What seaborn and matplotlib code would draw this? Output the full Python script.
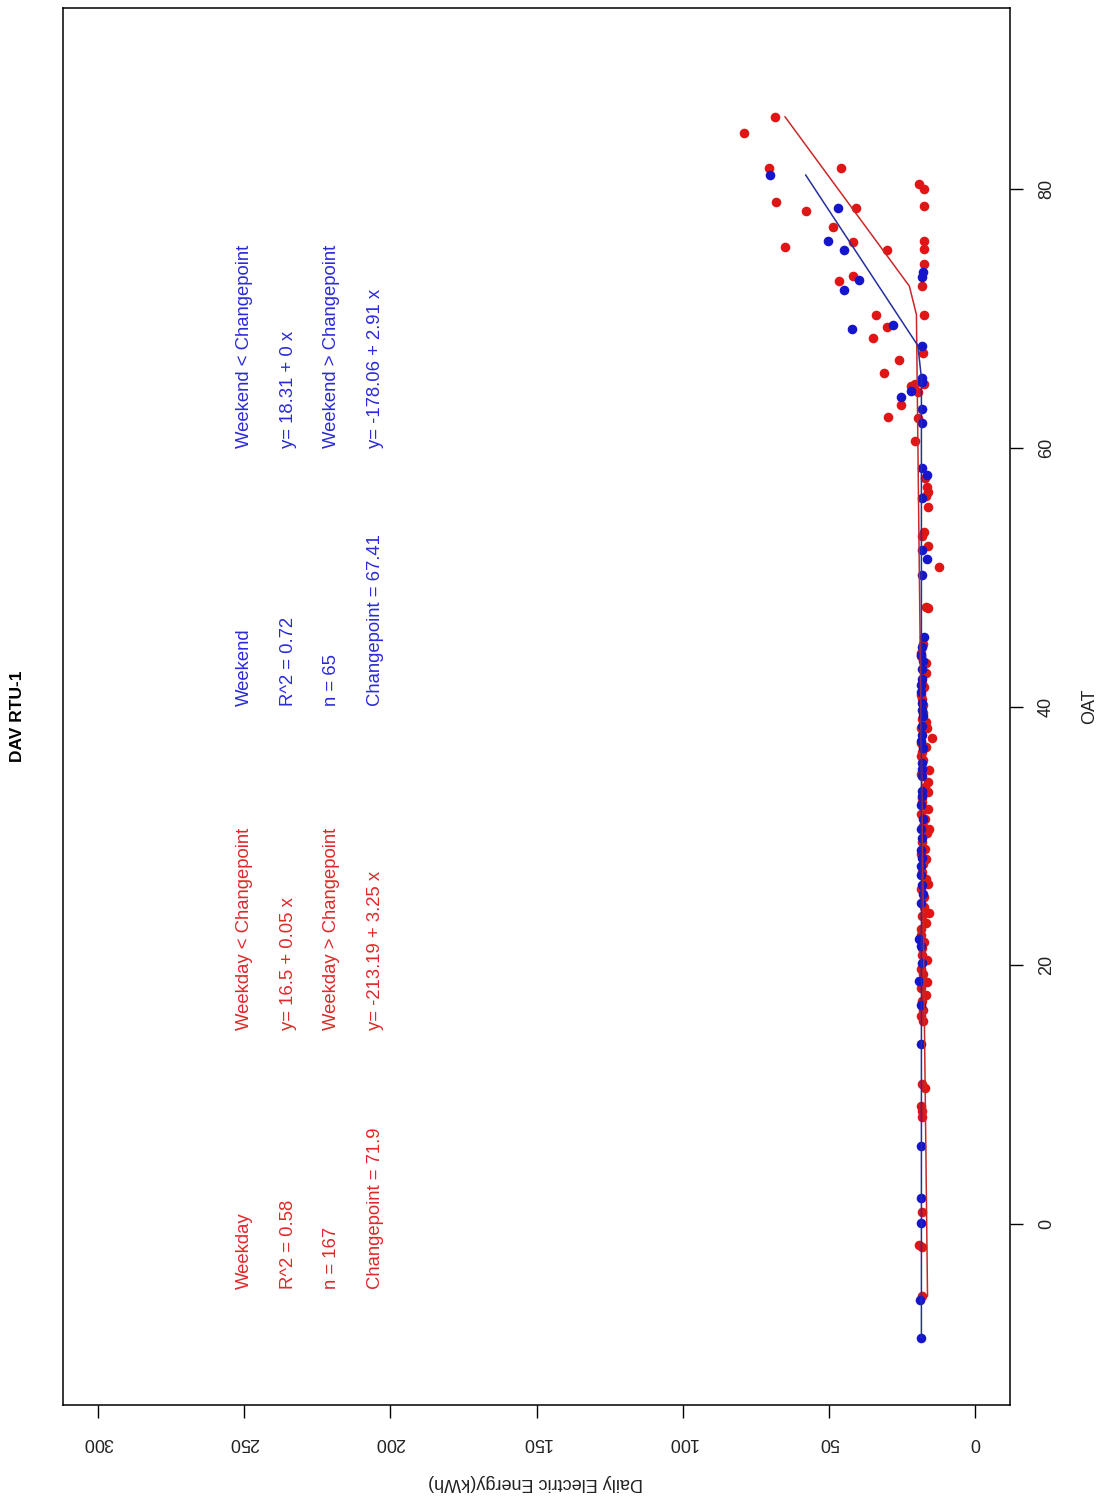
import matplotlib
matplotlib.use("Agg")
import matplotlib.pyplot as plt
import seaborn as sns
import pandas as pd
import numpy as np

# ---------------- data ----------------
weekday_oat = [85.6, 84.3, 81.6, 81.6, 79.0, 78.3, 78.5, 77.1, 75.9, 75.5, 75.3, 73.3, 72.9,
               80.4, 80.0, 78.7, 76.0, 75.4, 74.2, 72.5, 70.3, 70.3, 69.3, 68.5, 67.3, 66.8,
               65.8, 64.8, 64.9, 64.9, 64.3, 63.3, 62.4, 62.3, 60.5, 57.7, 57.0, 56.6, 56.3,
               55.4, 53.5, 53.2, 52.4, 50.8, 47.7, 47.6, 44.1, 43.4, 40.6, 40.1, 39.0, 38.8,
               38.3, 38.3, 37.6, 36.5, 36.2, 34.2, 32.9, 32.1, 31.7, 31.3, 29.0, 28.6, 28.2,
               27.2, 24.5, 22.8, 21.3, 19.7, 18.2, 17.7, 16.1, 15.7, 10.8, 10.5, 9.1, 8.7,
               8.3, 0.9, -1.6, -1.8, -5.6,
               # densely packed points in the main cluster
               44.8, 43.9, 42.6, 41.8, 41.5, 40.9, 39.5, 37.2, 36.9, 35.9, 34.8, 33.8, 32.6,
               30.8, 30.2, 29.5, 27.8, 26.7, 25.9, 25.3, 23.8, 23.3, 22.3, 21.8, 20.8, 19.3,
               18.7, 17.2, 16.5, 35.1, 33.4, 30.5, 26.3, 24.0, 20.4]
weekday_kwh = [68.3, 78.9, 70.6, 45.9, 67.9, 57.8, 40.6, 48.7, 41.6, 65.1, 30.2, 41.7, 46.4,
               19.1, 17.4, 17.4, 17.4, 17.4, 17.4, 18.0, 33.7, 17.4, 30.2, 34.8, 17.8, 26.0,
               31.1, 22.0, 20.6, 17.3, 19.5, 25.2, 29.6, 19.5, 20.6, 17.1, 16.3, 15.9, 16.8,
               15.9, 17.4, 18.2, 15.9, 12.3, 16.8, 15.9, 18.5, 16.8, 18.2, 17.8, 18.0, 16.8,
               18.5, 16.3, 14.6, 18.2, 18.5, 15.9, 18.2, 15.9, 18.5, 17.1, 17.1, 18.5, 16.8,
               18.0, 17.4, 18.5, 18.0, 18.5, 18.5, 16.8, 18.5, 17.8, 18.0, 17.2, 18.5, 18.2,
               18.0, 18.0, 19.1, 18.2, 18.0,
               17.9, 18.4, 16.6, 18.0, 17.3, 18.6, 17.7, 18.3, 16.9, 17.8, 18.5, 17.2, 18.1,
               17.6, 16.4, 18.2, 17.8, 16.9, 18.4, 17.5, 18.0, 16.7, 18.3, 17.4, 18.1, 17.7,
               16.5, 18.2, 17.9, 15.6, 16.2, 15.8, 16.1, 15.7, 16.3]

weekend_oat = [81.1, 78.5, 76.0, 75.3, 73.0, 72.2, 73.6, 73.2, 69.2, 69.5, 67.9, 65.4, 65.1,
               64.4, 63.9, 63.0, 61.9, 58.4, 57.9, 56.1, 52.1, 51.4, 50.2, 45.4, 44.6, 42.9,
               42.1, 41.1, 39.7, 38.5, 37.8, 35.6, 35.2, 33.5, 33.1, 30.5, 29.8, 27.7, 26.2,
               24.8, 22.0, 21.5, 20.2, 18.8, 16.9, 13.9, 6.0, 2.0, 0.1, -5.9, -8.8,
               44.0, 43.5, 41.7, 40.3, 39.3, 37.3, 36.8, 34.6, 32.4, 31.3, 28.9, 28.3, 27.0,
               25.5]
weekend_kwh = [70.0, 46.9, 50.1, 44.7, 39.5, 44.7, 17.7, 18.2, 42.1, 27.9, 18.0, 18.0, 18.0,
               21.8, 25.2, 18.0, 18.0, 18.0, 16.5, 18.2, 18.2, 16.3, 18.0, 17.4, 18.0, 18.0,
               18.2, 18.5, 18.0, 18.2, 18.2, 18.2, 18.0, 18.0, 18.2, 18.5, 18.0, 18.5, 18.2,
               18.5, 19.1, 18.5, 18.2, 19.1, 18.5, 18.5, 18.5, 18.5, 18.5, 18.9, 18.5,
               18.3, 17.6, 18.4, 18.1, 17.8, 18.5, 17.9, 18.2, 18.6, 17.7, 18.3, 18.0, 18.4,
               17.9]

# changepoint model coefficients (as printed on the chart)
weekday_fit = {"cp": 71.9, "lo": (16.5, 0.05), "hi": (-213.19, 3.25)}
weekend_fit = {"cp": 67.41, "lo": (18.31, 0.0), "hi": (-178.06, 2.91)}

energy_ticks = [0, 50, 100, 150, 200, 250, 300]
oat_ticks = [0, 20, 40, 60, 80]

weekday_lines = ["Weekday", "R^2 = 0.58", "n = 167", "Changepoint = 71.9"]
weekday_eq = ["Weekday < Changepoint", "y= 16.5 + 0.05 x",
              "Weekday > Changepoint", "y= -213.19 + 3.25 x"]
weekend_lines = ["Weekend", "R^2 = 0.72", "n = 65", "Changepoint = 67.41"]
weekend_eq = ["Weekend < Changepoint", "y= 18.31 + 0 x",
              "Weekend > Changepoint", "y= -178.06 + 2.91 x"]

# ---------------- styling ----------------
sns.set_theme(style="white")
plt.rcParams["font.family"] = ["Liberation Sans", "DejaVu Sans"]

RED_PT = "#E01515"
BLUE_PT = "#1515CC"
RED_LN = "#C82828"
BLUE_LN = "#25309A"
RED_TX = "#E02828"
BLUE_TX = "#2A2ADA"

W, H = 1104, 1497
fig = plt.figure(figsize=(W / 100, H / 100), dpi=100)
fig.patch.set_facecolor("white")
ax = fig.add_axes([63 / W, 1 - 1405 / H, (1010 - 63) / W, (1405 - 8) / H])
ax.set_facecolor("white")


def fitted(oats, fit):
    o = np.sort(np.asarray(oats))
    b0l, b1l = fit["lo"]
    b0h, b1h = fit["hi"]
    return o, np.where(o < fit["cp"], b0l + b1l * o, b0h + b1h * o)


wd = pd.DataFrame({"OAT": weekday_oat, "kWh": weekday_kwh})
we = pd.DataFrame({"OAT": weekend_oat, "kWh": weekend_kwh})

sns.scatterplot(data=wd, x="kWh", y="OAT", color=RED_PT, s=48, linewidth=0, ax=ax, zorder=3)
sns.scatterplot(data=we, x="kWh", y="OAT", color=BLUE_PT, s=48, linewidth=0, ax=ax, zorder=4)

o, f = fitted(weekday_oat, weekday_fit)
sns.lineplot(x=f, y=o, sort=False, estimator=None, color=RED_LN, lw=1.1, ax=ax, zorder=5)
o, f = fitted(weekend_oat, weekend_fit)
sns.lineplot(x=f, y=o, sort=False, estimator=None, color=BLUE_LN, lw=1.1, ax=ax, zorder=5)

ax.set_xlim(312, -12)
ax.set_ylim(-14, 94)

# energy axis (bottom, labels upside down)
ax.set_xticks(energy_ticks)
ax.set_xticklabels([str(t) for t in energy_ticks])
ax.tick_params(axis="x", bottom=True, length=9, width=1, color="black", direction="out",
               labelrotation=180, labelsize=13, pad=12, labelcolor="#222222")
# OAT axis (right)
ax.yaxis.tick_right()
ax.set_yticks(oat_ticks)
ax.set_yticklabels([str(t) for t in oat_ticks], va="center")
ax.tick_params(axis="y", right=True, left=False, length=9, width=1, color="black",
               direction="out", labelrotation=90, labelsize=13, pad=11, labelcolor="#222222")
ax.set_xlabel("")
ax.set_ylabel("")
for sp in ax.spines.values():
    sp.set_visible(True)
    sp.set_color("black")
    sp.set_linewidth(1.1)
ax.grid(False)

# annotations
fs = 13.3
cols_e = [250, 235, 220, 205]
for e, t in zip(cols_e, weekday_lines):
    ax.text(e, -5, t, rotation=90, rotation_mode="anchor", ha="left", va="center",
            color=RED_TX, fontsize=fs)
for e, t in zip(cols_e, weekday_eq):
    ax.text(e, 15, t, rotation=90, rotation_mode="anchor", ha="left", va="center",
            color=RED_TX, fontsize=fs)
for e, t in zip(cols_e, weekend_lines):
    ax.text(e, 40, t, rotation=90, rotation_mode="anchor", ha="left", va="center",
            color=BLUE_TX, fontsize=fs)
for e, t in zip(cols_e, weekend_eq):
    ax.text(e, 60, t, rotation=90, rotation_mode="anchor", ha="left", va="center",
            color=BLUE_TX, fontsize=fs)

fig.text(18 / W, 1 - 716 / H, "DAV RTU-1", rotation=90, ha="center", va="center",
         fontsize=12.5, fontweight="bold", color="black")
fig.text(1090 / W, 1 - 706 / H, "OAT", rotation=90, ha="center", va="center",
         fontsize=13, color="#222222")
fig.text(536 / W, 1 - 1483 / H, "Daily Electric Energy(kWh)", rotation=180, ha="center",
         va="center", fontsize=13, color="#222222")

fig.savefig("out.png", dpi=100, facecolor="white")
